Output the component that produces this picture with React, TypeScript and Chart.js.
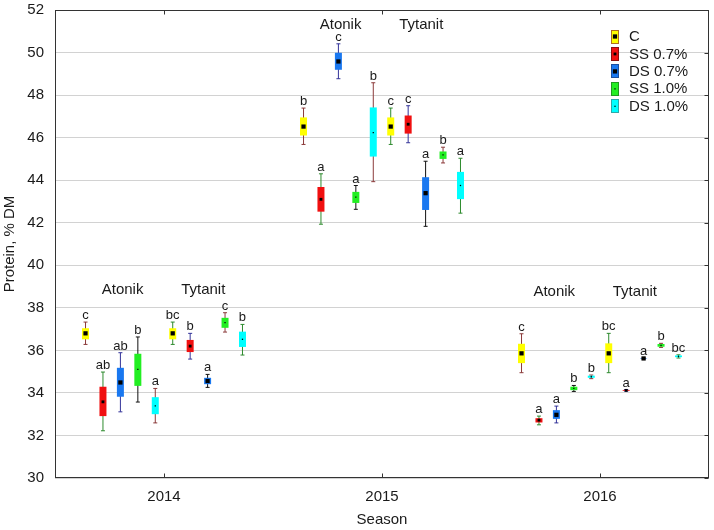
import React, { useEffect, useRef } from "react";
import { Chart, registerables } from "chart.js";

Chart.register(...registerables);

// ---------------- DATA ----------------
const SEASONS = [2014, 2015, 2016];
const GROUPS = ["Atonik", "Tytanit"];
const TREATMENTS = ["C", "SS 0.7%", "DS 0.7%", "SS 1.0%", "DS 1.0%"];
const X_TICKS = [2014, 2015, 2016];

// rows: 2014 Atonik, 2014 Tytanit, 2015 Atonik, 2015 Tytanit, 2016 Atonik, 2016 Tytanit
// each entry: [min, q1, median, q3, max]
const STATS_C = [
  [36.28, 36.52, 36.8, 37.04, 37.33],
  [36.28, 36.52, 36.8, 37.04, 37.33],
  [45.68, 46.1, 46.52, 46.95, 47.39],
  [45.68, 46.1, 46.52, 46.95, 47.39],
  [34.95, 35.4, 35.86, 36.31, 36.78],
  [34.95, 35.4, 35.86, 36.33, 36.8],
];
const STATS_SS07 = [
  [32.22, 32.91, 33.58, 34.29, 34.98],
  [35.59, 35.92, 36.2, 36.49, 36.8],
  [41.93, 42.52, 43.1, 43.68, 44.3],
  [45.76, 46.19, 46.63, 47.04, 47.5],
  [32.5, 32.61, 32.72, 32.81, 32.91],
  [34.08, 34.1, 34.12, 34.14, 34.16],
];
const STATS_DS07 = [
  [33.11, 33.82, 34.49, 35.18, 35.89],
  [34.26, 34.41, 34.56, 34.71, 34.87],
  [48.77, 49.19, 49.58, 49.99, 50.41],
  [41.83, 42.6, 43.39, 44.14, 44.89],
  [32.59, 32.78, 32.97, 33.19, 33.38],
  [35.6, 35.61, 35.62, 35.63, 35.64],
];
const STATS_SS10 = [
  [33.57, 34.33, 35.11, 35.84, 36.63],
  [36.86, 37.06, 37.3, 37.53, 37.77],
  [42.63, 42.93, 43.2, 43.45, 43.75],
  [44.81, 45.0, 45.19, 45.35, 45.55],
  [34.07, 34.13, 34.21, 34.29, 34.35],
  [36.14, 36.17, 36.23, 36.3, 36.33],
];
const STATS_DS10 = [
  [32.59, 33.0, 33.39, 33.8, 34.21],
  [35.78, 36.16, 36.52, 36.88, 37.22],
  [43.93, 45.11, 46.24, 47.42, 48.58],
  [42.45, 43.11, 43.75, 44.39, 45.03],
  [34.67, 34.71, 34.76, 34.81, 34.84],
  [35.64, 35.68, 35.72, 35.76, 35.79],
];

const LETTERS_C = ["c", "bc", "b", "c", "c", "bc"];
const LETTERS_SS07 = ["ab", "b", "a", "c", "a", "a"];
const LETTERS_DS07 = ["ab", "a", "c", "a", "a", "a"];
const LETTERS_SS10 = ["b", "c", "a", "b", "b", "b"];
const LETTERS_DS10 = ["a", "b", "b", "a", "b", "bc"];

// group label anchors (data units)
const GROUP_LABEL_X = [2013.81, 2014.18, 2014.81, 2015.18, 2015.79, 2016.16];
const GROUP_LABEL_Y = [38.84, 38.84, 51.31, 51.31, 38.73, 38.73];

// ---------------- STYLE ----------------
const FONT = '"Liberation Sans", Arial, Helvetica, sans-serif';
const TEXT = "#1a1a1a";
const BOX_COLORS = ["#ffff00", "#f01010", "#1a78f0", "#22ee22", "#00ffff"];
const LEGEND_BORDERS = ["#b07020", "#8b1010", "#1c4f9c", "#1f9a1f", "#30a8a8"];
const WHISKER_CYCLE = ["#8b3a3a", "#2e8b2e", "#333399", "#111111"];
const MEDIAN_RADIUS = [3, 2, 3, 0.9, 0.9];
const DODGE = 0.08;

const ALL_STATS = [STATS_C, STATS_SS07, STATS_DS07, STATS_SS10, STATS_DS10];
const ALL_LETTERS = [LETTERS_C, LETTERS_SS07, LETTERS_DS07, LETTERS_SS10, LETTERS_DS10];

const ROWS = SEASONS.flatMap((s) => GROUPS.map((_, gi) => ({ season: s, gi })));
const xFor = (row: { season: number; gi: number }, t: number) =>
  row.season + (row.gi * 5 + t - 4.5) * DODGE;
const whiskerColor = (row: { gi: number }, t: number) =>
  WHISKER_CYCLE[(row.gi * 5 + t) % 4];

function buildDatasets() {
  const ds: any[] = [];
  TREATMENTS.forEach((name, t) => {
    const stats = ALL_STATS[t];
    ds.push({
      type: "bar",
      label: name + " whisker",
      data: ROWS.map((r, k) => ({ x: xFor(r, t), y: [stats[k][0], stats[k][4]] })),
      backgroundColor: ROWS.map((r) => whiskerColor(r, t)),
      borderWidth: 0,
      barThickness: 1,
      maxBarThickness: 1,
      inflateAmount: 0,
      grouped: false,
      order: 4,
    });
    ds.push({
      type: "scatter",
      label: name + " caps",
      data: ROWS.flatMap((r, k) => [
        { x: xFor(r, t), y: stats[k][0] },
        { x: xFor(r, t), y: stats[k][4] },
      ]),
      pointStyle: "line",
      pointRadius: 2,
      pointBorderWidth: 1,
      pointBorderColor: ROWS.flatMap((r) => [whiskerColor(r, t), whiskerColor(r, t)]),
      order: 3,
    });
    ds.push({
      type: "bar",
      label: name,
      data: ROWS.map((r, k) => ({ x: xFor(r, t), y: [stats[k][1], stats[k][3]] })),
      backgroundColor: BOX_COLORS[t],
      borderWidth: 0,
      barThickness: 7,
      maxBarThickness: 7,
      inflateAmount: 0,
      grouped: false,
      order: 2,
    });
    ds.push({
      type: "scatter",
      label: name + " median",
      data: ROWS.map((r, k) => ({ x: xFor(r, t), y: stats[k][2] })),
      pointStyle: "rect",
      pointRadius: MEDIAN_RADIUS[t],
      pointBackgroundColor: "#000",
      pointBorderWidth: 0,
      order: 1,
    });
  });
  return ds;
}

const overlayPlugin = {
  id: "overlay",
  afterDraw(chart: any) {
    const { ctx, chartArea: a, scales } = chart;
    const xs = scales.x;
    const ys = scales.y;
    ctx.save();

    // frame
    ctx.strokeStyle = "#333";
    ctx.lineWidth = 1;
    const L = Math.round(a.left) + 0.5;
    const R = Math.round(a.right) - 0.5;
    const T = Math.round(a.top) + 0.5;
    const B = Math.round(a.bottom) - 0.5;
    ctx.strokeRect(L, T, R - L, B - T);

    // inner tick marks
    ctx.beginPath();
    X_TICKS.forEach((v) => {
      const px = Math.round(xs.getPixelForValue(v)) + 0.5;
      ctx.moveTo(px, T);
      ctx.lineTo(px, T + 4);
      ctx.moveTo(px, B);
      ctx.lineTo(px, B - 4);
    });
    ys.ticks.forEach((tk: any) => {
      const py = Math.round(ys.getPixelForValue(tk.value)) + 0.5;
      ctx.moveTo(R, py);
      ctx.lineTo(R - 4, py);
    });
    ctx.stroke();

    // significance letters
    ctx.fillStyle = TEXT;
    ctx.font = `13px ${FONT}`;
    ctx.textAlign = "center";
    ctx.textBaseline = "alphabetic";
    TREATMENTS.forEach((_, t) => {
      ROWS.forEach((r, k) => {
        const px = xs.getPixelForValue(xFor(r, t));
        const py = ys.getPixelForValue(ALL_STATS[t][k][4]) - 3;
        ctx.fillText(ALL_LETTERS[t][k], px, py);
      });
    });

    // group labels
    ctx.font = `15px ${FONT}`;
    ctx.textBaseline = "middle";
    ROWS.forEach((r, k) => {
      ctx.fillText(
        GROUPS[r.gi],
        xs.getPixelForValue(GROUP_LABEL_X[k]),
        ys.getPixelForValue(GROUP_LABEL_Y[k])
      );
    });

    // legend
    const lx = 611;
    const ly0 = 36.5;
    const step = 17.45;
    ctx.textAlign = "left";
    TREATMENTS.forEach((name, t) => {
      const cy = ly0 + t * step;
      ctx.fillStyle = BOX_COLORS[t];
      ctx.fillRect(lx, Math.round(cy - 7), 8, 14);
      ctx.strokeStyle = LEGEND_BORDERS[t];
      ctx.lineWidth = 1;
      ctx.strokeRect(lx + 0.5, Math.round(cy - 7) + 0.5, 7, 13);
      const s = MEDIAN_RADIUS[t] * Math.SQRT2;
      ctx.fillStyle = "#000";
      ctx.fillRect(lx + 4 - s / 2, cy - s / 2, s, s);
      ctx.fillStyle = TEXT;
      ctx.fillText(name, lx + 18, cy + 0.5);
    });

    ctx.restore();
  },
};

export default function App() {
  const ref = useRef<HTMLCanvasElement | null>(null);

  useEffect(() => {
    if (!ref.current) return;
    Chart.defaults.font.family = FONT;
    const chart = new Chart(ref.current, {
      type: "scatter",
      data: { datasets: buildDatasets() },
      options: {
        responsive: false,
        animation: false,
        devicePixelRatio: 1,
        events: [],
        layout: { padding: { left: 0, top: 10, right: 5, bottom: 0 }, autoPadding: false },
        plugins: {
          legend: { display: false },
          tooltip: { enabled: false },
        },
        scales: {
          x: {
            type: "linear",
            min: 2013.5,
            max: 2016.5,
            offset: false,
            afterBuildTicks: (s: any) => {
              s.ticks = X_TICKS.map((v) => ({ value: v }));
            },
            afterFit: (s: any) => {
              s.height = 52;
              s.paddingLeft = 0;
              s.paddingRight = 0;
            },
            ticks: {
              callback: (v: any) => String(v),
              padding: 10,
              color: TEXT,
              font: { size: 15, family: FONT },
              maxRotation: 0,
            },
            grid: { display: false, drawTicks: false },
            border: { display: false },
            title: {
              display: true,
              text: "Season",
              color: TEXT,
              font: { size: 15, family: FONT },
              padding: { top: 0, bottom: 1 },
            },
          },
          y: {
            type: "linear",
            min: 30,
            max: 52,
            afterFit: (s: any) => {
              s.width = 55;
              s.paddingTop = 0;
              s.paddingBottom = 0;
            },
            ticks: {
              stepSize: 2,
              padding: 11,
              color: TEXT,
              font: { size: 15, family: FONT },
            },
            grid: { color: "#d2d2d2", drawTicks: false, lineWidth: 1 },
            border: { display: false },
            title: {
              display: true,
              text: "Protein, % DM",
              color: TEXT,
              font: { size: 15, family: FONT },
              padding: { top: 1, bottom: 0 },
            },
          },
        },
      } as any,
      plugins: [overlayPlugin],
    });
    return () => chart.destroy();
  }, []);

  return (
    <div style={{ position: "fixed", left: 0, top: 0, width: 714, height: 530, background: "#fff" }}>
      <canvas ref={ref} width={714} height={530} style={{ display: "block" }} />
    </div>
  );
}
